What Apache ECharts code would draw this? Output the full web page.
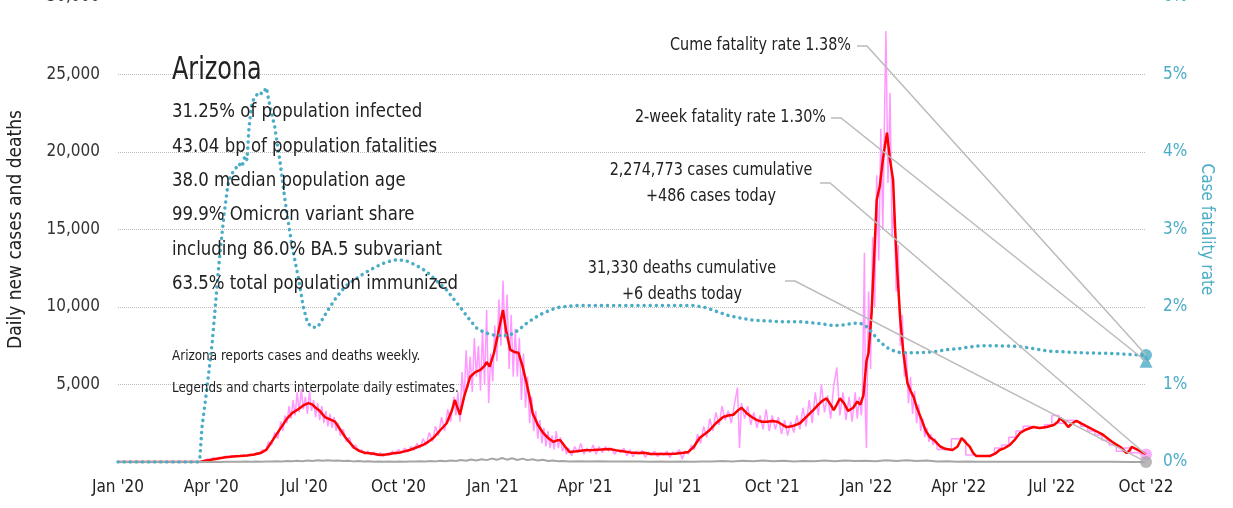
<!DOCTYPE html>
<html>
<head>
<meta charset="utf-8">
<script src="https://cdn.jsdelivr.net/npm/echarts@6/dist/echarts.min.js"></script>
<style>
html,body{margin:0;padding:0;background:#fff;}
#main{width:1233px;height:508px;}
</style>
</head>
<body>
<div id="main"></div>
<script>
// days counted from Jan 1 2020
const tickDays = [0, 91, 182, 274, 366, 456, 547, 639, 731, 821, 912, 1004];
const tickLabels = ["Jan '20", "Apr '20", "Jul '20", "Oct '20", "Jan '21", "Apr '21", "Jul '21", "Oct '21", "Jan '22", "Apr '22", "Jul '22", "Oct '22"];

// 7-day average of new cases
const avgCases = [[0,0],[80,0],[84,60],[91,150],[98,230],[105,300],[112,350],[119,380],[126,420],[133,480],[140,600],[145,800],[150,1300],[154,1700],[160,2300],[165,2800],[170,3150],[176,3400],[181,3650],[186,3800],[190,3700],[193,3500],[197,3300],[202,2900],[207,2750],[212,2600],[217,2100],[222,1600],[227,1200],[231,900],[236,700],[241,600],[248,550],[256,450],[262,480],[269,560],[276,620],[285,775],[292,950],[298,1100],[303,1300],[308,1550],[314,2000],[321,2500],[326,3300],[329,4000],[331,3600],[334,3050],[338,4200],[344,5500],[349,5800],[354,5950],[358,6200],[360,6450],[363,6150],[367,7000],[371,8200],[374,9200],[376,9800],[379,8500],[383,7250],[387,7100],[391,7050],[395,6200],[399,5100],[402,4200],[405,3150],[410,2400],[415,1900],[420,1550],[425,1300],[429,1400],[432,1400],[436,1050],[441,650],[448,700],[456,760],[464,775],[472,800],[480,840],[487,750],[493,700],[500,620],[507,580],[514,600],[520,520],[528,510],[536,520],[544,530],[552,600],[557,650],[562,950],[568,1550],[573,1800],[578,2070],[584,2500],[591,2900],[596,3000],[601,3050],[605,3300],[609,3500],[614,3150],[619,2900],[624,2700],[629,2600],[634,2600],[639,2650],[644,2600],[649,2400],[653,2250],[658,2300],[662,2400],[666,2500],[672,2900],[679,3350],[684,3700],[688,3950],[692,4100],[696,3700],[699,3350],[702,3700],[705,4100],[709,3800],[713,3300],[718,3500],[722,3900],[725,3700],[728,4300],[731,6500],[733,7050],[736,9600],[738,12500],[741,16900],[744,17800],[747,19500],[749,20400],[751,21250],[754,19500],[757,18200],[759,15000],[761,12400],[764,9200],[767,7050],[771,5100],[774,4600],[777,4200],[780,3550],[785,2700],[789,2000],[793,1600],[798,1350],[803,1000],[808,850],[815,775],[820,1000],[824,1550],[828,1250],[832,970],[835,600],[838,390],[845,380],[852,390],[857,550],[861,775],[866,900],[871,1100],[876,1450],[881,1870],[887,2100],[894,2260],[900,2200],[907,2260],[914,2390],[918,2600],[920,2840],[924,2600],[928,2260],[932,2500],[936,2650],[942,2450],[949,2200],[955,2000],[961,1800],[966,1550],[972,1250],[979,970],[985,580],[988,750],[990,970],[994,850],[998,710],[1001,600],[1004,500]];

// daily new cases (estimates), until weekly reporting
const dailyCases = [[0,0],[82,0],[84,100],[87,200],[90,150],[93,280],[96,200],[99,300],[102,250],[105,380],[108,300],[111,400],[114,330],[117,420],[120,380],[123,450],[126,400],[129,500],[132,430],[135,600],[138,500],[141,800],[144,700],[147,1300],[150,1100],[153,1900],[156,1500],[159,2600],[161,2000],[163,3000],[165,2500],[167,3600],[169,2800],[171,4000],[173,3000],[175,4500],[177,3200],[179,4700],[181,3400],[183,4200],[185,3100],[187,4600],[189,3300],[191,4000],[193,2900],[195,3800],[197,2700],[199,3600],[201,2500],[203,3300],[205,2300],[207,3100],[209,2200],[211,2900],[213,2000],[215,2500],[217,1700],[220,2100],[223,1300],[226,1600],[229,900],[232,1100],[235,700],[238,800],[241,500],[244,700],[247,450],[250,650],[253,400],[256,600],[259,350],[262,550],[265,450],[268,700],[271,500],[274,800],[277,600],[280,900],[283,650],[286,1000],[289,750],[292,1200],[295,900],[298,1500],[301,1100],[304,1900],[307,1300],[310,2300],[313,1700],[316,2900],[319,2000],[322,3400],[325,2600],[328,4200],[330,3000],[332,4500],[334,2600],[336,5800],[338,4000],[340,7200],[342,4800],[344,6800],[346,4500],[348,8000],[350,5500],[352,7500],[354,4600],[356,8500],[358,5000],[360,9800],[362,3800],[364,7000],[366,5200],[368,8800],[370,6500],[372,10500],[374,7500],[376,11700],[378,8000],[380,10800],[382,6000],[384,9500],[386,5500],[388,8600],[390,5500],[392,8000],[394,4000],[396,7000],[398,3500],[400,5500],[402,2500],[404,4200],[406,2000],[408,3300],[410,1500],[412,2700],[414,1200],[416,2200],[418,1000],[420,2000],[422,900],[424,1700],[426,800],[428,2000],[430,900],[432,1600],[434,700],[436,1100],[438,500],[440,900],[443,400],[446,1000],[449,600],[452,1200],[455,500],[458,900],[461,600],[464,1100],[467,500],[470,1000],[473,600],[476,1000],[479,700],[482,900],[485,500],[488,800],[491,600],[494,900],[497,400],[500,800],[503,350],[506,700],[509,500],[512,750],[515,300],[518,650],[521,450],[524,700],[527,350],[530,600],[533,450],[536,700],[539,300],[542,650],[545,500],[548,800],[551,200],[554,700],[557,500],[560,1100],[563,800],[566,1800],[569,1200],[572,2300],[575,1600],[578,2800],[581,2000],[584,3200],[587,2400],[590,3600],[593,2700],[596,3300],[599,2500],[602,3700],[605,4800],[607,900],[609,3800],[612,2800],[615,3600],[618,2400],[621,3200],[624,2200],[627,3000],[630,2100],[633,3400],[636,2000],[639,3000],[642,2100],[645,2900],[648,1800],[651,2700],[654,1700],[657,2600],[660,1900],[663,3000],[666,2100],[669,3500],[672,2300],[675,4000],[678,2500],[681,4500],[684,3000],[687,5000],[690,3200],[693,4300],[696,2800],[699,4900],[702,6100],[705,3000],[708,4500],[711,2700],[714,4200],[717,2600],[720,4500],[722,2800],[724,4200],[726,3000],[727,4200],[729,13500],[730,3000],[731,900],[733,11000],[735,6000],[737,14500],[739,10000],[741,18500],[743,13000],[745,21500],[747,15000],[749,24000],[750,27800],[752,18000],[754,23800],[756,14500],[758,16500],[760,11000],[762,14000],[764,7500],[766,9500],[768,5500],[770,7000],[772,3800],[774,5500],[776,3100],[778,4600],[780,2500],[782,3700],[784,2000],[786,2800],[788,1600],[790,2200],[792,1300],[794,1800],[796,1100],[798,1500],[800,1000]];

// weekly reported cases spread over the week
const weeklyCases = [[800,1000],[807,800],[814,780],[821,1500],[828,1400],[835,450],[842,380],[849,400],[856,500],[863,900],[870,1100],[877,1600],[884,2000],[891,2300],[898,2200],[905,2200],[912,2400],[919,3000],[926,2500],[933,2700],[940,2600],[947,2300],[954,2000],[961,1750],[968,1400],[975,1100],[982,700],[989,900],[996,600],[1003,486],[1004,486]];

// daily new deaths
const dailyDeaths = [[0,0],[84,0],[90,5],[95,15],[100,8],[105,20],[110,10],[115,22],[120,12],[125,25],[130,15],[135,30],[140,18],[145,35],[150,25],[155,45],[160,30],[165,60],[170,45],[175,80],[180,55],[185,100],[190,70],[195,110],[200,80],[205,120],[210,75],[215,100],[220,60],[225,80],[230,40],[235,60],[240,30],[245,45],[250,20],[255,35],[260,15],[265,30],[270,15],[275,30],[280,20],[285,40],[290,25],[295,45],[300,30],[305,60],[310,40],[315,80],[320,50],[325,100],[330,60],[335,130],[340,80],[345,160],[350,100],[355,180],[360,120],[365,220],[370,140],[375,260],[380,150],[385,240],[390,130],[395,220],[400,120],[405,180],[410,90],[415,140],[420,70],[425,100],[430,50],[435,70],[440,35],[450,50],[460,30],[470,45],[480,25],[490,40],[500,25],[510,35],[520,20],[530,30],[540,15],[550,25],[560,20],[570,40],[580,30],[590,60],[600,40],[610,80],[620,50],[630,90],[640,45],[650,80],[660,40],[670,70],[680,45],[690,90],[700,55],[710,100],[720,60],[730,80],[740,50],[750,110],[760,70],[770,120],[780,60],[790,90],[800,40],[810,50],[820,20],[830,30],[840,10],[850,15],[870,10],[890,15],[910,10],[930,15],[950,10],[970,12],[990,8],[1004,6]];

// case fatality rate, percent
const fatalityRate = [[0,0],[78,0],[80,0.06],[82,0.45],[87,0.97],[92,1.54],[95,2.0],[98,2.48],[103,3.13],[107,3.55],[110,3.7],[114,3.77],[118,3.85],[121,3.81],[124,3.95],[126,3.9],[128,4.33],[131,4.65],[134,4.7],[137,4.77],[141,4.75],[145,4.83],[147,4.68],[150,4.5],[153,4.33],[158,3.9],[163,3.39],[170,2.78],[176,2.39],[181,2.0],[185,1.8],[189,1.74],[195,1.74],[200,1.85],[205,1.96],[212,2.1],[219,2.22],[225,2.3],[231,2.35],[241,2.44],[252,2.52],[262,2.58],[272,2.61],[281,2.6],[291,2.54],[301,2.46],[311,2.34],[321,2.22],[328,2.1],[334,2.0],[342,1.86],[350,1.73],[358,1.67],[366,1.64],[375,1.63],[383,1.64],[391,1.7],[399,1.79],[407,1.86],[415,1.92],[424,1.97],[432,2.0],[450,2.02],[480,2.02],[520,2.02],[562,2.02],[575,1.99],[585,1.94],[596,1.89],[607,1.86],[620,1.83],[634,1.82],[650,1.81],[666,1.81],[683,1.79],[699,1.76],[710,1.77],[718,1.79],[725,1.79],[730,1.76],[734,1.71],[739,1.63],[744,1.55],[749,1.5],[754,1.45],[764,1.41],[780,1.41],[796,1.42],[810,1.45],[819,1.46],[830,1.48],[842,1.5],[860,1.5],[881,1.49],[895,1.46],[910,1.43],[925,1.42],[940,1.41],[972,1.40],[998,1.38],[1004,1.38]];

const lastDay = 1004;
const cumeRate = 1.38;
const twoWeekRate = 1.30;
const casesToday = 486;
const deathsToday = 6;

const statLines = [
  '31.25% of population infected',
  '43.04 bp of population fatalities',
  '38.0 median population age',
  '99.9% Omicron variant share',
  'including 86.0% BA.5 subvariant',
  '63.5% total population immunized'
];
const noteLines = [
  'Arizona reports cases and deaths weekly.',
  'Legends and charts interpolate daily estimates.'
];

const FONT = "'DejaVu Sans Condensed','Liberation Sans Narrow',sans-serif";
const TEAL = '#4bacc6';

const chart = echarts.init(document.getElementById('main'));

const option = {
  animation: false,
  grid: {left: 118, right: 87, top: -3, bottom: 46, outerBoundsMode: 'none', containLabel: false},
  xAxis: {
    type: 'value', min: 0, max: lastDay,
    axisLine: {show: false}, axisTick: {show: false}, splitLine: {show: false},
    axisLabel: {
      customValues: tickDays,
      formatter: v => tickLabels[tickDays.indexOf(v)] || '',
      fontFamily: FONT, fontSize: 17, color: '#222', margin: 17
    }
  },
  yAxis: [
    {
      type: 'value', min: 0, max: 30000, interval: 5000,
      name: 'Daily new cases and deaths', nameLocation: 'middle', nameGap: 92, nameRotate: 90,
      nameTextStyle: {fontFamily: FONT, fontSize: 19, color: '#222'},
      axisLine: {show: false}, axisTick: {show: false},
      axisLabel: {showMinLabel: false, fontFamily: FONT, fontSize: 17, color: '#333', margin: 18},
      splitLine: {showMinLine: false, lineStyle: {type: 'dotted', color: '#bbb', width: 1}}
    },
    {
      type: 'value', min: 0, max: 6, interval: 1,
      name: 'Case fatality rate', nameLocation: 'middle', nameGap: 50, nameRotate: -90,
      nameTextStyle: {fontFamily: FONT, fontSize: 17, color: TEAL},
      axisLine: {show: false}, axisTick: {show: false}, splitLine: {show: false},
      axisLabel: {formatter: '{value}%', fontFamily: FONT, fontSize: 17, color: TEAL, margin: 17}
    }
  ],
  series: [
    {type: 'line', data: dailyCases, symbol: 'none', lineStyle: {color: '#ff99ff', width: 1.5}},
    {type: 'line', data: weeklyCases, step: 'start', symbol: 'none', lineStyle: {color: '#ff99ff', width: 1.5}},
    {type: 'line', data: avgCases, symbol: 'none', lineStyle: {color: '#ff0000', width: 2.5}},
    {type: 'line', data: dailyDeaths, symbol: 'none', lineStyle: {color: '#a6a6a6', width: 2}},
    {type: 'line', yAxisIndex: 1, data: fatalityRate, symbol: 'none',
      lineStyle: {color: TEAL, width: 3.5, type: [0.1, 6], cap: 'round'}},
    {type: 'scatter', yAxisIndex: 1, data: [[lastDay, cumeRate]], symbol: 'circle', symbolSize: 12, itemStyle: {color: TEAL}},
    {type: 'scatter', yAxisIndex: 1, data: [[lastDay, twoWeekRate]], symbol: 'triangle', symbolSize: 13, itemStyle: {color: TEAL}},
    {type: 'scatter', data: [[lastDay, casesToday]], symbol: 'circle', symbolSize: 12, itemStyle: {color: '#ff99ff'}},
    {type: 'scatter', data: [[lastDay, deathsToday]], symbol: 'circle', symbolSize: 12, itemStyle: {color: '#a6a6a6'}}
  ]
};
chart.setOption(option);

// narrow text by horizontal scale so it takes the reference width
function txt(text, x, y, size, sx, align, color) {
  return {
    type: 'text', z: 50, x: x, y: y, scaleX: sx, originX: 0, originY: 0,
    style: {text: text, x: 0, y: 0, font: size + 'px ' + FONT, fill: color || '#222',
      textAlign: align || 'left', align: align || 'left', textVerticalAlign: 'middle', verticalAlign: 'middle'}
  };
}
function leader(x0, y0, pt) {
  return {
    type: 'polyline', z: 40,
    shape: {points: [[x0, y0], [x0 + 10, y0], pt]},
    style: {stroke: '#bbb', lineWidth: 1.5, fill: null}
  };
}

const pCume = chart.convertToPixel({seriesIndex: 5}, [lastDay, cumeRate]);
const pTwo = chart.convertToPixel({seriesIndex: 6}, [lastDay, twoWeekRate]);
const pCases = chart.convertToPixel({seriesIndex: 7}, [lastDay, casesToday]);
const pDeaths = chart.convertToPixel({seriesIndex: 8}, [lastDay, deathsToday]);

const graphics = [];
graphics.push(txt('Arizona', 172, 71, 32, 0.83));
statLines.forEach((s, i) => graphics.push(txt(s, 172, 112 + i * 34.4, 20, 0.92)));
noteLines.forEach((s, i) => graphics.push(txt(s, 172, 356 + i * 32, 14.5, 0.92)));

graphics.push(txt('Cume fatality rate ' + cumeRate.toFixed(2) + '%', 851, 46, 17, 0.94, 'right'));
graphics.push(txt('2-week fatality rate ' + twoWeekRate.toFixed(2) + '%', 826, 118, 17, 0.94, 'right'));
graphics.push(txt('2,274,773 cases cumulative', 711, 171, 17, 0.94, 'center'));
graphics.push(txt('+' + casesToday + ' cases today', 711, 197, 17, 0.94, 'center'));
graphics.push(txt('31,330 deaths cumulative', 682, 269, 17, 0.94, 'center'));
graphics.push(txt('+' + deathsToday + ' deaths today', 682, 295, 17, 0.94, 'center'));

graphics.push(leader(857, 46, pCume));
graphics.push(leader(831, 118, pTwo));
graphics.push(leader(820, 183, pCases));
graphics.push(leader(785, 281, pDeaths));

chart.setOption({graphic: graphics});
</script>
</body>
</html>
